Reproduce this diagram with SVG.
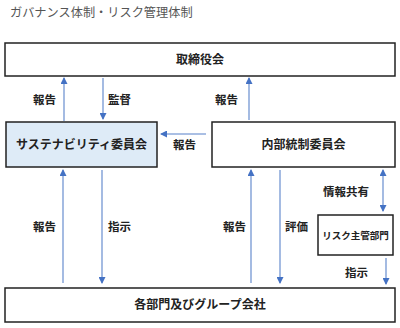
<svg xmlns="http://www.w3.org/2000/svg" width="400" height="328" viewBox="0 0 400 328">
<style>
.box{fill:#fff;stroke:#222;stroke-width:1.5}
.t{font-family:"Noto Sans CJK JP","Noto Sans",sans-serif;font-size:12px;font-weight:700;fill:#222;text-anchor:middle}
.lbl{font-family:"Noto Sans CJK JP","Noto Sans",sans-serif;font-size:11.5px;font-weight:700;fill:#222;text-anchor:middle}
.ln{stroke:#8eaadb;stroke-width:1.6;fill:none}
</style>
<defs>
<marker id="ah" markerUnits="userSpaceOnUse" markerWidth="7" markerHeight="7" refX="6" refY="3.5" orient="auto-start-reverse" viewBox="0 0 7 7">
<path d="M0,0 L7,3.5 L0,7 z" fill="#4472c4"/>
</marker>
</defs>
<text x="10" y="17" style="font-family:'Noto Sans CJK JP','Noto Sans',sans-serif;font-size:12.2px;fill:#555">ガバナンス体制・リスク管理体制</text>
<g id="board"><rect class="box" x="5" y="43" width="390" height="33"/><text class="t" x="200" y="64">取締役会</text></g>
<g id="sustainability"><rect class="box" x="6" y="122" width="151" height="45" style="fill:#deebf7"/><text class="t" x="81.5" y="149">サステナビリティ委員会</text></g>
<g id="internal"><rect class="box" x="212" y="122" width="183" height="45"/><text class="t" x="303.5" y="149">内部統制委員会</text></g>
<g id="risk"><rect class="box" x="318" y="215" width="75" height="40"/><text class="t" x="355.5" y="239" style="font-size:9.5px">リスク主管部門</text></g>
<g id="group"><rect class="box" x="5" y="288" width="390" height="34"/><text class="t" x="200" y="309">各部門及びグループ会社</text></g>
<g id="connectors">
<line class="ln" x1="64" y1="121" x2="64" y2="78" marker-end="url(#ah)"/>
<line class="ln" x1="103" y1="78" x2="103" y2="119" marker-end="url(#ah)"/>
<line class="ln" x1="249" y1="120" x2="249" y2="78" marker-end="url(#ah)"/>
<line class="ln" x1="206" y1="134" x2="161" y2="134" marker-end="url(#ah)"/>
<line class="ln" x1="63" y1="283" x2="63" y2="170" marker-end="url(#ah)"/>
<line class="ln" x1="102" y1="170" x2="102" y2="283" marker-end="url(#ah)"/>
<line class="ln" x1="251" y1="283" x2="251" y2="170" marker-end="url(#ah)"/>
<line class="ln" x1="280" y1="170" x2="280" y2="283" marker-end="url(#ah)"/>
<line class="ln" x1="383" y1="170" x2="383" y2="211" marker-start="url(#ah)" marker-end="url(#ah)"/>
<line class="ln" x1="386" y1="258" x2="386" y2="284" marker-end="url(#ah)"/>
<text class="lbl" x="44.5" y="104">報告</text>
<text class="lbl" x="119.5" y="104">監督</text>
<text class="lbl" x="226.5" y="104">報告</text>
<text class="lbl" x="184.5" y="149">報告</text>
<text class="lbl" x="44.5" y="231">報告</text>
<text class="lbl" x="119.5" y="231">指示</text>
<text class="lbl" x="234.5" y="231">報告</text>
<text class="lbl" x="296.5" y="231">評価</text>
<text class="lbl" x="346" y="196">情報共有</text>
<text class="lbl" x="356.5" y="277">指示</text>
</g>
</svg>
